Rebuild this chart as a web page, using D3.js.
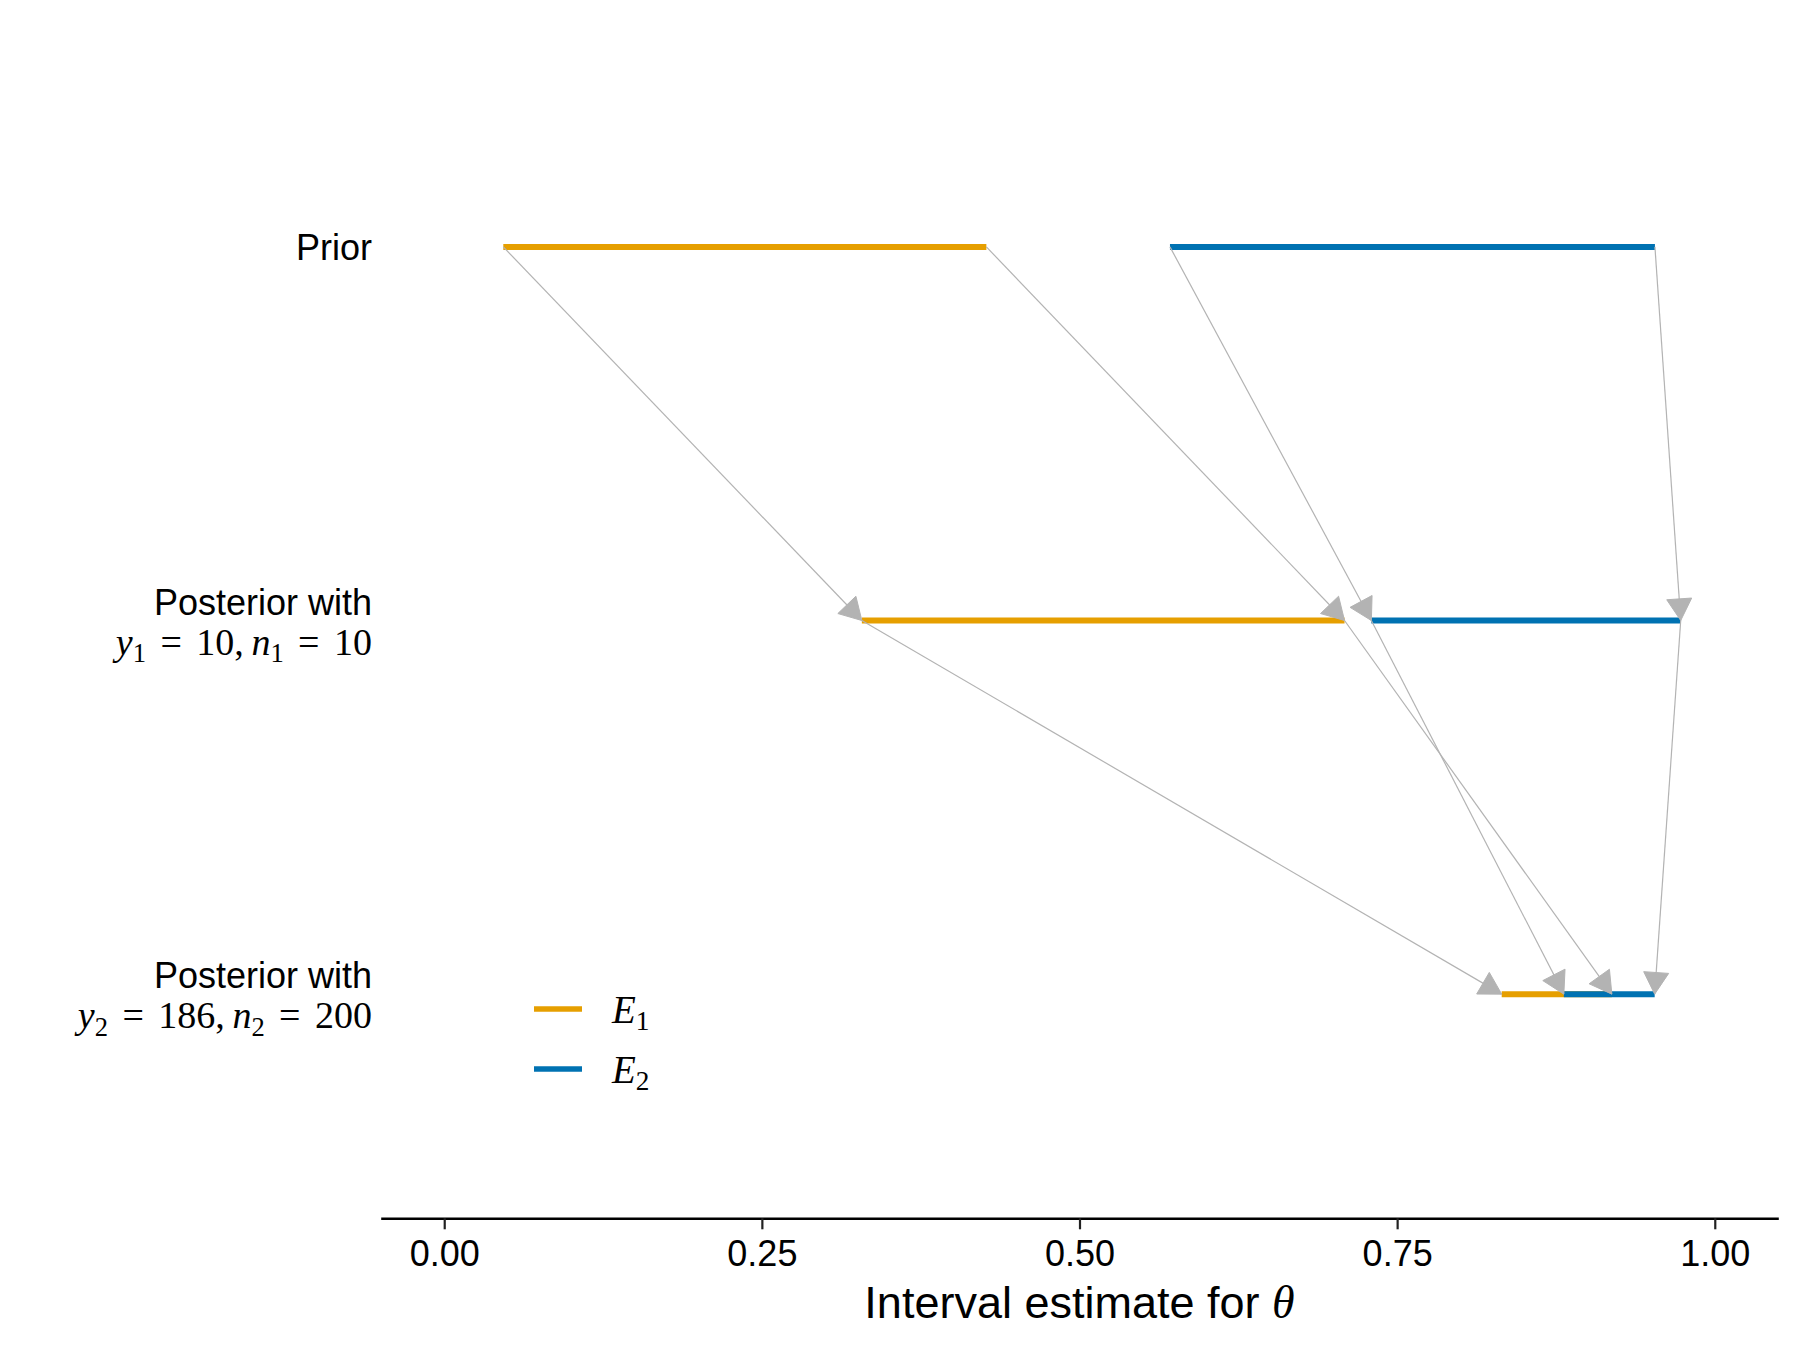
<!DOCTYPE html>
<html>
<head>
<meta charset="utf-8">
<script src="https://cdn.jsdelivr.net/npm/d3@7"></script>
<style>
  html, body { margin: 0; padding: 0; background: #ffffff; }
  svg { display: block; }
</style>
</head>
<body>
<svg id="chart" width="1800" height="1350"></svg>
<script>
// ---------------- data ----------------
const stages = ["prior", "post1", "post2"];
const stageTitles = ["Prior", "Posterior with", "Posterior with"];
// math second lines of the stage labels (token lists)
const stageMath = [
  null,
  [["y","i"],["1","s"],["=","r"],["10","n"],[",","p"],["n","i"],["1","s"],["=","r"],["10","n"]],
  [["y","i"],["2","s"],["=","r"],["186","n"],[",","p"],["n","i"],["2","s"],["=","r"],["200","n"]]
];
const seriesNames = ["E1", "E2"];
const seriesColors = ["#E69F00", "#0072B2"];
// interval endpoints per stage (Prior, Posterior 1, Posterior 2)
const e1Lower = [0.0465, 0.3287, 0.8323];
const e1Upper = [0.4267, 0.7086, 0.9190];
const e2Lower = [0.5712, 0.7297, 0.8812];
const e2Upper = [0.9529, 0.9732, 0.9527];
const xTicks = [0, 0.25, 0.5, 0.75, 1];

// ---------------- layout ----------------
const svg = d3.select("#chart");
const panel = { left: 380.7, right: 1778.3, top: 22.7, bottom: 1218.3 };

const x = d3.scaleLinear().domain([-0.05, 1.05]).range([panel.left, panel.right]);
const y = d3.scalePoint().domain(stages).range([panel.top, panel.bottom]).padding(0.6);

const sansFont = "'Liberation Sans', Arial, Helvetica, sans-serif";
const serifFont = "'Liberation Serif', 'Times New Roman', serif";

const lowers = [e1Lower, e2Lower];
const uppers = [e1Upper, e2Upper];

// ---------------- interval segments ----------------
const segData = [];
seriesNames.forEach((s, si) => {
  stages.forEach((st, k) => {
    segData.push({ s: si, stage: st, lo: lowers[si][k], hi: uppers[si][k] });
  });
});

svg.append("g").selectAll("line")
  .data(segData)
  .join("line")
  .attr("x1", d => x(d.lo))
  .attr("x2", d => x(d.hi))
  .attr("y1", d => y(d.stage))
  .attr("y2", d => y(d.stage))
  .attr("stroke", d => seriesColors[d.s])
  .attr("stroke-width", 6)
  .attr("stroke-linecap", "butt");

// ---------------- arrows ----------------
const arrows = [];
[e1Lower, e1Upper, e2Lower, e2Upper].forEach(arr => {
  for (let k = 0; k < stages.length - 1; k++) {
    arrows.push({ x0: arr[k], s0: stages[k], x1: arr[k + 1], s1: stages[k + 1] });
  }
});

const arrowColor = "#B3B3B3";
const headLen = 25;
const headAng = Math.PI / 6;
const ga = svg.append("g");
ga.selectAll("line")
  .data(arrows)
  .join("line")
  .attr("x1", d => x(d.x0))
  .attr("y1", d => y(d.s0))
  .attr("x2", d => x(d.x1))
  .attr("y2", d => y(d.s1))
  .attr("stroke", arrowColor)
  .attr("stroke-width", 1.2);

ga.selectAll("path")
  .data(arrows)
  .join("path")
  .attr("fill", arrowColor)
  .attr("stroke", arrowColor)
  .attr("stroke-width", 1)
  .attr("d", d => {
    const tx = x(d.x1), ty = y(d.s1);
    const sx = x(d.x0), sy = y(d.s0);
    const back = Math.atan2(sy - ty, sx - tx);
    const p1 = [tx + headLen * Math.cos(back + headAng), ty + headLen * Math.sin(back + headAng)];
    const p2 = [tx + headLen * Math.cos(back - headAng), ty + headLen * Math.sin(back - headAng)];
    return `M${tx},${ty}L${p1[0]},${p1[1]}L${p2[0]},${p2[1]}Z`;
  });

// ---------------- x axis ----------------
const xAxis = d3.axisBottom(x)
  .tickValues(xTicks)
  .tickFormat(d3.format(".2f"))
  .tickSize(11)
  .tickSizeOuter(0)
  .tickPadding(11);

const gx = svg.append("g")
  .attr("transform", `translate(0,${panel.bottom})`)
  .call(xAxis);
gx.select(".domain").attr("stroke", "#000").attr("stroke-width", 2.6);
gx.selectAll(".tick line").attr("stroke", "#222").attr("stroke-width", 2.2);
gx.selectAll(".tick text")
  .attr("font-family", sansFont)
  .attr("font-size", 36)
  .attr("fill", "#000");

// axis title
const title = svg.append("text")
  .attr("x", (panel.left + panel.right) / 2)
  .attr("y", 1318)
  .attr("text-anchor", "middle")
  .attr("font-family", sansFont)
  .attr("font-size", 45)
  .attr("fill", "#000");
title.append("tspan").text("Interval estimate for ");
title.append("tspan").attr("font-family", serifFont).attr("font-style", "italic")
  .attr("font-size", 46).text("θ");

// ---------------- math text helper ----------------
function mathText(sel, tokens, size) {
  const sub = size * 0.7;
  const subShift = size * 0.2;
  let shifted = false;
  tokens.forEach((tk, i) => {
    const [t, kind] = tk;
    const ts = sel.append("tspan").text(t);
    let dx = 0, dy = 0;
    if (kind === "s") {
      ts.attr("font-size", sub).attr("font-family", serifFont);
      dy = subShift; shifted = true;
    } else {
      if (shifted) { dy = -subShift; shifted = false; }
      ts.attr("font-size", size).attr("font-family", serifFont);
      if (kind === "i") ts.attr("font-style", "italic");
    }
    const prev = i > 0 ? tokens[i - 1][1] : null;
    if (kind === "r") dx = size * 0.38;
    if (prev === "r") dx = size * 0.38;
    if (prev === "p") dx = size * 0.2;
    if (dx) ts.attr("dx", dx);
    if (dy) ts.attr("dy", dy);
  });
}

// ---------------- y labels ----------------
const labelX = 372;
stages.forEach((st, k) => {
  const cy = y(st);
  if (!stageMath[k]) {
    svg.append("text")
      .attr("x", labelX).attr("y", cy + 13)
      .attr("text-anchor", "end")
      .attr("font-family", sansFont).attr("font-size", 36)
      .attr("fill", "#000")
      .text(stageTitles[k]);
  } else {
    svg.append("text")
      .attr("x", labelX).attr("y", cy - 6)
      .attr("text-anchor", "end")
      .attr("font-family", sansFont).attr("font-size", 36)
      .attr("fill", "#000")
      .text(stageTitles[k]);
    const mt = svg.append("text")
      .attr("x", labelX).attr("y", cy + 34)
      .attr("text-anchor", "end")
      .attr("fill", "#000");
    mathText(mt, stageMath[k], 38);
  }
});

// ---------------- legend ----------------
const legY = [1009, 1069];
const leg = svg.append("g");
seriesNames.forEach((nm, i) => {
  leg.append("line")
    .attr("x1", 534).attr("x2", 582)
    .attr("y1", legY[i]).attr("y2", legY[i])
    .attr("stroke", seriesColors[i]).attr("stroke-width", 5.5);
  const t = leg.append("text")
    .attr("x", 612).attr("y", legY[i] + 13.5)
    .attr("fill", "#000");
  mathText(t, [[nm[0], "i"], [nm.slice(1), "s"]], 39);
});
</script>
</body>
</html>
